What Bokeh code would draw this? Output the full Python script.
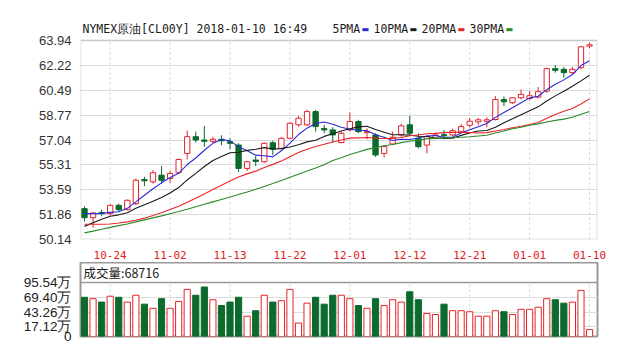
from bokeh.plotting import figure
from bokeh.models import ColumnDataSource, FixedTicker, Label, Span, PrintfTickFormatter, BoxAnnotation
from bokeh.layouts import column
from bokeh.embed import file_html
from bokeh.resources import INLINE

# ---------------- data ----------------
opens = [52.28, 51.65, 52.02, 51.93, 52.51, 52.21, 52.63, 54.30, 54.14, 54.60,
         54.37, 54.77, 56.11, 57.27, 57.04, 56.95, 57.09, 56.92, 56.69, 55.07,
         55.65, 55.53, 56.85, 56.46, 57.16, 58.09, 58.09, 59.01, 57.83, 57.74,
         56.86, 57.74, 58.32, 57.55, 57.39, 56.11, 56.76, 57.39, 58.09, 57.16,
         56.69, 57.16, 57.41, 57.39, 57.62, 58.06, 58.30, 58.34, 58.46, 59.85,
         59.62, 59.97, 59.92, 60.01, 60.43, 61.99, 61.94, 61.71, 62.06, 63.55]
highs = [52.44, 52.05, 52.21, 52.58, 52.63, 52.91, 54.37, 54.49, 54.95, 55.23,
         54.91, 55.76, 57.69, 57.62, 58.02, 57.27, 57.37, 57.16, 56.81, 55.60,
         55.93, 56.88, 56.99, 57.23, 58.27, 58.71, 59.13, 59.13, 58.09, 57.92,
         57.62, 58.95, 58.44, 57.85, 57.51, 56.69, 57.62, 58.16, 58.71, 57.51,
         57.39, 57.55, 57.74, 57.83, 58.16, 58.57, 58.57, 58.62, 60.08, 60.06,
         60.01, 60.55, 60.43, 60.71, 62.06, 62.24, 62.11, 62.11, 63.57, 63.80]
lows = [51.40, 50.96, 51.75, 51.81, 52.05, 52.16, 52.51, 53.84, 54.02, 54.02,
        54.07, 54.67, 55.69, 56.86, 56.58, 56.81, 56.69, 56.39, 54.83, 54.90,
        55.23, 55.46, 55.99, 56.39, 57.09, 57.97, 58.02, 57.62, 57.51, 56.85,
        56.81, 57.62, 57.51, 57.09, 55.88, 55.83, 56.69, 57.27, 57.39, 56.46,
        56.11, 57.09, 57.09, 57.32, 57.51, 57.92, 58.06, 57.92, 58.39, 59.39,
        59.55, 59.85, 59.78, 59.92, 60.32, 61.71, 61.36, 61.59, 61.94, 63.41]
closes = [51.65, 51.98, 51.93, 52.51, 52.21, 52.86, 54.25, 54.21, 54.77, 54.25,
          54.72, 55.69, 57.27, 57.04, 56.95, 57.09, 56.99, 56.81, 55.07, 55.53,
          55.55, 56.81, 56.39, 57.16, 58.20, 58.55, 59.01, 57.97, 57.74, 57.39,
          57.51, 58.32, 57.62, 57.62, 56.00, 56.58, 57.23, 58.02, 57.51, 56.58,
          57.27, 57.39, 57.34, 57.69, 57.97, 58.34, 58.44, 58.44, 59.85, 59.69,
          59.97, 60.20, 60.11, 60.39, 61.99, 61.87, 61.71, 61.94, 63.50, 63.64]
# volume, in 万
volumes = [69.4, 66.9, 60.9, 71.2, 69.4, 60.9, 73.0, 57.2, 49.9, 66.9,
           49.9, 62.1, 83.4, 73.0, 87.6, 65.1, 54.8, 60.9, 69.4, 35.9,
           45.6, 73.0, 60.9, 63.3, 83.4, 23.7, 59.0, 69.4, 57.2, 73.0,
           73.0, 66.9, 54.8, 49.9, 66.9, 54.8, 65.1, 60.9, 79.1, 65.1,
           40.8, 38.9, 57.2, 45.6, 45.6, 43.8, 35.9, 35.9, 45.6, 43.8,
           38.9, 48.1, 48.1, 51.7, 66.9, 65.1, 59.0, 60.9, 81.5, 12.2]
ma5 = [51.95, 51.92, 51.95, 52.02, 52.06, 52.30, 52.75, 53.21, 53.66, 54.07,
       54.44, 54.73, 55.34, 55.79, 56.33, 56.81, 57.07, 56.98, 56.58, 56.30,
       55.99, 55.95, 55.87, 56.29, 56.82, 57.42, 57.86, 58.18, 58.29, 58.13,
       57.92, 57.79, 57.72, 57.69, 57.41, 57.23, 57.01, 57.09, 57.07, 57.18,
       57.32, 57.35, 57.22, 57.25, 57.53, 57.75, 57.96, 58.18, 58.61, 58.95,
       59.28, 59.63, 59.96, 60.07, 60.53, 60.91, 61.21, 61.58, 62.20, 62.53]
ma10 = [51.05, 51.30, 51.55, 51.75, 51.85, 52.00, 52.30, 52.55, 52.80, 53.06,
        53.37, 53.74, 54.27, 54.73, 55.20, 55.62, 55.90, 56.16, 56.19, 56.32,
        56.40, 56.51, 56.42, 56.44, 56.56, 56.71, 56.91, 57.02, 57.29, 57.48,
        57.67, 57.82, 57.95, 57.99, 57.77, 57.58, 57.40, 57.40, 57.38, 57.30,
        57.28, 57.18, 57.15, 57.16, 57.36, 57.53, 57.66, 57.70, 57.93, 58.24,
        58.51, 58.79, 59.07, 59.34, 59.74, 60.10, 60.42, 60.77, 61.14, 61.53]
ma20 = [51.20, 51.20, 51.20, 51.22, 51.28, 51.36, 51.47, 51.62, 51.80, 52.00,
        52.22, 52.45, 52.72, 53.00, 53.30, 53.60, 53.90, 54.20, 54.48, 54.69,
        54.88, 55.13, 55.35, 55.58, 55.88, 56.17, 56.40, 56.59, 56.74, 56.90,
        57.04, 57.17, 57.19, 57.21, 57.17, 57.14, 57.15, 57.21, 57.34, 57.39,
        57.47, 57.50, 57.55, 57.58, 57.57, 57.56, 57.53, 57.55, 57.66, 57.77,
        57.89, 57.99, 58.11, 58.25, 58.55, 58.81, 59.04, 59.23, 59.53, 59.89]
ma30 = [50.60, 50.72, 50.85, 50.98, 51.10, 51.22, 51.36, 51.50, 51.64, 51.78,
        51.93, 52.08, 52.24, 52.41, 52.58, 52.75, 52.92, 53.09, 53.26, 53.43,
        53.62, 53.82, 54.02, 54.23, 54.45, 54.67, 54.89, 55.10, 55.33, 55.62,
        55.81, 56.03, 56.21, 56.39, 56.51, 56.64, 56.73, 56.86, 56.95, 57.03,
        57.12, 57.17, 57.17, 57.20, 57.23, 57.27, 57.32, 57.37, 57.53, 57.67,
        57.82, 57.93, 58.06, 58.16, 58.29, 58.40, 58.49, 58.62, 58.82, 59.02]

date_tick_idx = [3, 10, 17, 24, 31, 38, 45, 52, 59]
date_tick_labels = ["10-24", "11-02", "11-13", "11-22", "12-01", "12-12", "12-21", "01-01", "01-10"]
price_ticks = [50.14, 51.86, 53.59, 55.31, 57.04, 58.77, 60.49, 62.22, 63.94]
vol_ticks = [0, 17.12, 43.26, 69.40, 95.54]
vol_tick_labels = ["0", "17.12万", "43.26万", "69.40万", "95.54万"]
title_text = "NYMEX原油[CL00Y] 2018-01-10 16:49"
legend_names = ["5PMA", "10PMA", "20PMA", "30PMA"]
vol_header = "成交量:68716"

# ---------------- styles ----------------
RED = "#e4242b"
GREEN = "#0b6a2c"
MA_COLORS = ["#2a2ad8", "#1a1a1a", "#e8262a", "#2a8c2a"]
BORDER = "#9a9a9a"
MONO = "DejaVu Sans Mono"

n = len(closes)
idx = list(range(n))
up = [c >= o for o, c in zip(opens, closes)]
src = ColumnDataSource(dict(
    x=idx, open=opens, close=closes, high=highs, low=lows,
    mid=[(o + c) / 2 for o, c in zip(opens, closes)],
    h=[max(abs(c - o), 0.07) for o, c in zip(opens, closes)],
    color=[RED if u else GREEN for u in up],
    fill=["white" if u else GREEN for u in up],
    vol=volumes,
))

x_range = (-0.467, n - 1 + 0.93)
PX_PER_UNIT = 199 / (price_ticks[-1] - price_ticks[0])
HEAD_PX = 24                                  # header strip above the price box
y_top = price_ticks[-1] + HEAD_PX / PX_PER_UNIT

p = figure(frame_width=517, frame_height=199 + HEAD_PX, x_range=x_range,
           y_range=(price_ticks[0], y_top),
           output_backend="svg", toolbar_location=None,
           min_border_left=80, min_border_right=20, min_border_top=16, min_border_bottom=23,
           background_fill_color="white", border_fill_color="white")
p.outline_line_color = None

# vertical dashed grid inside the price box only
p.segment(x0=date_tick_idx, x1=date_tick_idx, y0=[price_ticks[0]] * len(date_tick_idx),
          y1=[price_ticks[-1]] * len(date_tick_idx), line_color="#cfcfcf", line_dash="2 3")
p.segment(x0="x", x1="x", y0="high", y1="low", line_color="color", line_width=1, source=src)
p.rect(x="x", y="mid", width=0.62, height="h", fill_color="fill", line_color="color",
       line_width=1, source=src)
for ys, col in zip([ma5, ma10, ma20, ma30], MA_COLORS):
    p.line(idx, ys, line_color=col, line_width=1.1)
p.add_layout(BoxAnnotation(bottom=price_ticks[0], top=price_ticks[-1], fill_alpha=0,
                           line_color=BORDER, line_width=2))

p.yaxis.ticker = FixedTicker(ticks=price_ticks)
p.yaxis.formatter = PrintfTickFormatter(format="%.2f")
p.xaxis.ticker = FixedTicker(ticks=date_tick_idx)
p.xaxis.major_label_overrides = {i: l for i, l in zip(date_tick_idx, date_tick_labels)}
for ax in (p.xaxis, p.yaxis):
    ax.axis_line_color = None
    ax.major_tick_line_color = None
    ax.minor_tick_line_color = None
p.yaxis.major_label_text_font = "Liberation Sans"
p.yaxis.major_label_text_font_size = "13px"
p.yaxis.major_label_text_color = "#333333"
p.yaxis.major_label_standoff = 3
p.xaxis.major_label_text_font = MONO
p.xaxis.major_label_text_font_size = "11px"
p.xaxis.major_label_text_color = "#e02020"
p.xaxis.major_label_standoff = 5

p.ygrid.ticker = FixedTicker(ticks=price_ticks)
p.ygrid.grid_line_color = "#dcdcdc"
p.xgrid.visible = False

# title + legend (inside the header strip)
HEAD_Y = 199 + 11.5
p.add_layout(Label(x=2, y=HEAD_Y, x_units="screen", y_units="screen", text=title_text,
                   text_font=MONO, text_font_size="11.5px", text_color="#1a1a1a",
                   text_baseline="middle"))
legend_pos = [(252, 281), (293, 329), (341, 377), (389, 425)]
for name, (tx, dx), col in zip(legend_names, legend_pos, MA_COLORS):
    p.add_layout(Label(x=tx, y=HEAD_Y, x_units="screen", y_units="screen", text=name,
                       text_font=MONO, text_font_size="11.5px", text_color="#1a1a1a",
                       text_baseline="middle"))
    p.add_layout(Label(x=dx, y=HEAD_Y, x_units="screen", y_units="screen", text="▬",
                       text_font="DejaVu Sans", text_font_size="8px", text_color=col,
                       text_baseline="middle"))

# ---------------- volume panel ----------------
vmax = vol_ticks[-1] * 74 / 54
v = figure(frame_width=517, frame_height=74, x_range=p.x_range, y_range=(0, vmax),
           output_backend="svg", toolbar_location=None,
           min_border_left=80, min_border_right=20, min_border_top=0, min_border_bottom=10,
           background_fill_color="white", border_fill_color="white")
v.outline_line_color = BORDER
v.outline_line_width = 2
v.xaxis.visible = False
v.xgrid.visible = False
v.segment(x0=date_tick_idx, x1=date_tick_idx, y0=[0] * len(date_tick_idx),
          y1=[vol_ticks[-1]] * len(date_tick_idx), line_color="#cfcfcf", line_dash="2 3")
v.vbar(x="x", top="vol", width=0.72, fill_color="fill", line_color="color", line_width=1, source=src)
v.add_layout(Span(location=vol_ticks[-1], dimension="width", line_color=BORDER, line_width=1.5))

v.yaxis.ticker = FixedTicker(ticks=vol_ticks)
v.yaxis.major_label_overrides = {t: l for t, l in zip(vol_ticks, vol_tick_labels)}
v.yaxis.axis_line_color = None
v.yaxis.major_tick_line_color = None
v.yaxis.minor_tick_line_color = None
v.yaxis.major_label_text_font = "Liberation Sans"
v.yaxis.major_label_text_font_size = "13.5px"
v.yaxis.major_label_text_color = "#222222"
v.yaxis.major_label_standoff = 3
v.ygrid.ticker = FixedTicker(ticks=vol_ticks[1:-1])
v.ygrid.grid_line_color = "#dcdcdc"

v.add_layout(Label(x=3, y=64.5, x_units="screen", y_units="screen", text=vol_header,
                   text_font="Noto Sans CJK SC", text_font_size="12.5px", text_color="#1a1a1a",
                   text_baseline="middle"))

layout = column(p, v, spacing=0)
open("out.html", "w").write(file_html(layout, INLINE))
